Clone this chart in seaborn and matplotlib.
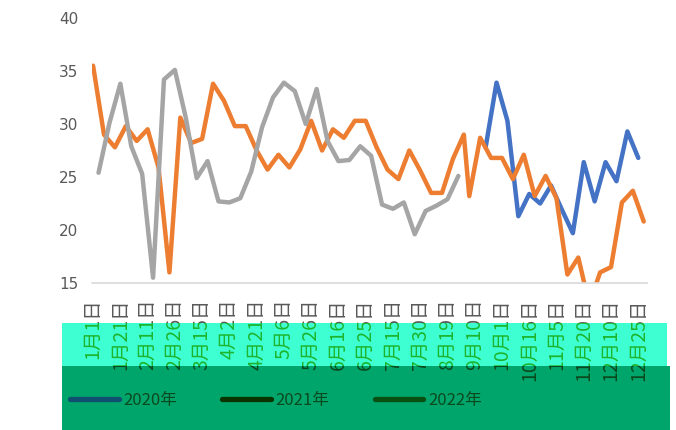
import numpy as np
import pandas as pd
import seaborn as sns
import matplotlib
matplotlib.use("Agg")
import matplotlib.pyplot as plt
from matplotlib.patches import Rectangle
from matplotlib.lines import Line2D
from matplotlib.transforms import Bbox, TransformedBbox

# ---------------- data ----------------
tick_labels = ["1月1日", "1月21日", "2月11日", "2月26日", "3月15日", "4月2日", "4月21日",
               "5月6日", "5月26日", "6月16日", "6月25日", "7月15日", "7月30日", "8月19日",
               "9月10日", "10月1日", "10月16日", "11月5日", "11月20日", "12月10日", "12月25日"]
label_step = 5  # one label every 5 categories

# category index of each observation (dates of the three years interleave on one axis)
x_2021 = list(range(0, 69, 2)) + list(range(69, 102, 2))
y_2021 = [35.5, 29.0, 27.8, 29.8, 28.4, 29.5, 25.9, 16.0, 30.6, 28.2, 28.6, 33.8, 32.2,
          29.8, 29.8, 27.5, 25.7, 27.1, 25.9, 27.6, 30.3, 27.5, 29.5, 28.7, 30.3, 30.3,
          27.8, 25.7, 24.8, 27.5, 25.6, 23.5, 23.5, 26.7, 29.0, 23.2, 28.7, 26.8, 26.8,
          24.8, 27.1, 23.2, 25.1, 23.0, 15.8, 17.4, 13.0, 16.0, 16.5, 22.6, 23.7, 20.8]

x_2022 = list(range(1, 68, 2))
y_2022 = [25.4, 30.1, 33.8, 27.9, 25.3, 15.5, 34.2, 35.1, 30.6, 24.9, 26.5, 22.7, 22.6,
          23.0, 25.5, 29.7, 32.5, 33.9, 33.1, 30.0, 33.3, 28.4, 26.5, 26.6, 27.9, 27.0,
          22.4, 22.0, 22.6, 19.6, 21.8, 22.3, 22.9, 25.1]

x_2020 = list(range(72, 101, 2))
y_2020 = [27.8, 33.9, 30.3, 21.3, 23.4, 22.5, 24.2, 21.9, 19.7, 26.4, 22.7, 26.4, 24.6,
          29.3, 26.8]

series_names = ["2020年", "2021年", "2022年"]
series_colors = ["#4472C4", "#ED7D31", "#A5A5A5"]

df = pd.concat([
    pd.DataFrame({"x": x_2020, "y": y_2020, "s": series_names[0]}),
    pd.DataFrame({"x": x_2021, "y": y_2021, "s": series_names[1]}),
    pd.DataFrame({"x": x_2022, "y": y_2022, "s": series_names[2]}),
], ignore_index=True)

# ---------------- style ----------------
sns.set_theme(style="white")
plt.rcParams["font.family"] = ["Noto Sans CJK SC", "DejaVu Sans"]

fig = plt.figure(figsize=(6.76, 4.30), dpi=100)
ax = fig.add_axes([92 / 676, 1 - 283 / 430, (647 - 92) / 676, (283 - 18) / 430])

sns.lineplot(data=df, x="x", y="y", hue="s", palette=dict(zip(series_names, series_colors)),
             hue_order=series_names, sort=False, estimator=None, linewidth=3.2,
             legend=False, ax=ax)

ax.set_xlim(-0.2, 101.6)
ax.set_ylim(15, 40)
ax.set_yticks([15, 20, 25, 30, 35, 40])
ax.set_xlabel("")
ax.set_ylabel("")
for side in ["top", "right", "left"]:
    ax.spines[side].set_visible(False)
ax.spines["bottom"].set_color("#D9D9D9")
ax.spines["bottom"].set_linewidth(1.2)
ax.spines["bottom"].set_zorder(3)
ax.grid(False)

ticks = [i * label_step for i in range(len(tick_labels))]
ax.set_xticks(ticks)
ax.set_xticklabels(tick_labels, rotation=90, fontsize=14, color="#595959",
                   family=["Noto Sans CJK SC", "DejaVu Sans"])
ax.tick_params(axis="x", length=0, pad=11)
ax.tick_params(axis="y", length=0, pad=10, labelsize=11, labelcolor="#595959")
for t in ax.get_yticklabels():
    t.set_family("DejaVu Sans")

fig.canvas.draw()

# ---------------- coloured bands at the bottom ----------------
teal_box = (62 / 676, 1 - 366 / 430, (667 - 62) / 676, (366 - 323) / 430)
green_box = (62 / 676, 0.0, (670 - 62) / 676, 1 - 366 / 430)
fig.add_artist(Rectangle(teal_box[:2], teal_box[2], teal_box[3], transform=fig.transFigure,
                         facecolor="#3EFFD2", edgecolor="none", zorder=5))
fig.add_artist(Rectangle(green_box[:2], green_box[2], green_box[3], transform=fig.transFigure,
                         facecolor="#00A56B", edgecolor="none", zorder=5))


def clone_labels(box, color):
    clip = TransformedBbox(Bbox.from_bounds(*box), fig.transFigure)
    for lab in ax.get_xticklabels():
        px, py = lab.get_position()
        t = fig.text(px, py, lab.get_text(), transform=lab.get_transform(),
                     rotation=90, ha=lab.get_ha(), va=lab.get_va(),
                     fontproperties=lab.get_fontproperties(), color=color, zorder=6)
        t.set_clip_box(clip)
        t.set_clip_on(True)


clone_labels(teal_box, "#1DB52E")
clone_labels(green_box, "#0B4A1E")

handles = [Line2D([], [], color=c, linewidth=3.8, solid_capstyle="round")
           for c in ["#0F4F70", "#0A3300", "#0A4F12"]]
leg = fig.legend(handles, series_names, loc="center", bbox_to_anchor=(276 / 676, 1 - 400 / 430),
                 ncol=3, frameon=False, fontsize=12, handlelength=2.9, handletextpad=0.3,
                 columnspacing=2.7)
for t in leg.get_texts():
    t.set_color("#0B4A1E")
leg.set_zorder(7)

fig.savefig("out.png", dpi=100)
